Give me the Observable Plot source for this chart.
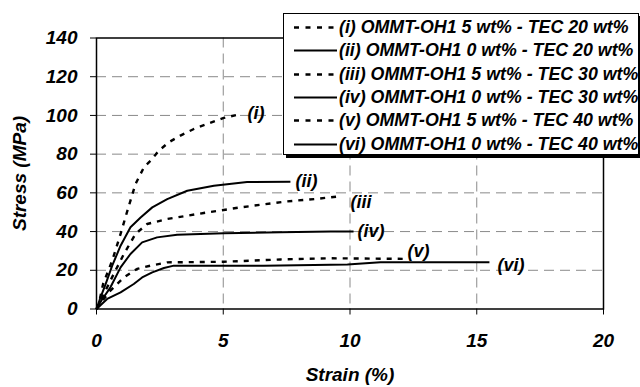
<!DOCTYPE html>
<html>
<head>
<meta charset="utf-8">
<script src="https://cdn.jsdelivr.net/npm/d3@7"></script>
<script src="https://cdn.jsdelivr.net/npm/@observablehq/plot@0.6"></script>
<style>
  html, body { margin: 0; padding: 0; background: #fff; }
  #wrap { position: relative; width: 640px; height: 387px; overflow: hidden;
          font-family: "Liberation Sans", Arial, sans-serif; font-weight: bold; font-style: italic; }
  #legend { position: absolute; left: 283px; top: 13px; width: 356px; height: 142px;
            background: #fff; border: 1px solid #000; box-shadow: 3px 3px 0 #000;
            box-sizing: border-box; padding-top: 2px; }
  .row { height: 23.3px; display: flex; align-items: center; font-size: 17.8px; white-space: nowrap; }
  .row svg { width: 55px; height: 23px; flex: none; }
</style>
</head>
<body>
<div id="wrap">
  <div id="chart"></div>
  <div id="legend"></div>
</div>
<script>
// ---- data ----
const seriesNames = [
  "(i) OMMT-OH1 5 wt% - TEC 20 wt%",
  "(ii) OMMT-OH1 0 wt% - TEC 20 wt%",
  "(iii) OMMT-OH1 5 wt% - TEC 30 wt%",
  "(iv) OMMT-OH1 0 wt% - TEC 30 wt%",
  "(v) OMMT-OH1 5 wt% - TEC 40 wt%",
  "(vi) OMMT-OH1 0 wt% - TEC 40 wt%"
];
const seriesDashed = [true, false, true, false, true, false];

const strain_i = [0, 0.09, 0.26, 0.62, 0.95, 1.14, 1.34, 1.54, 1.87, 2.13, 2.46, 2.85, 3.31, 3.84, 4.43, 5.02, 5.6];
const stress_i = [0, 2.6, 12.9, 25, 38.8, 47.3, 56, 64.6, 73.2, 76.6, 81.8, 86.1, 89.6, 93, 95.9, 98.7, 100.5];

const strain_ii = [0, 0.16, 0.36, 0.62, 0.95, 1.34, 1.74, 2.2, 2.79, 3.58, 4.63, 5.94, 7.65];
const stress_ii = [0, 6, 12.9, 22.4, 32.7, 42.2, 47.3, 52.5, 56.8, 61.1, 63.7, 65.6, 65.8];

const strain_iii = [0, 0.3, 0.68, 1.08, 1.54, 2.0, 2.79, 4.23, 5.68, 7.52, 8.6, 9.45];
const stress_iii = [0, 8, 18.1, 28.4, 38.8, 43.9, 46.5, 49.6, 52.5, 55.6, 56.8, 58];

const strain_iv = [0, 0.2, 0.55, 0.95, 1.34, 1.8, 2.39, 3.18, 5.02, 7.26, 9.23, 10.14];
const stress_iv = [0, 4.5, 11.2, 21.5, 28.4, 34.4, 37, 38.4, 39.1, 39.6, 40.1, 40.1];

const strain_v = [0, 0.25, 0.55, 1.08, 1.6, 2.13, 2.79, 5.02, 7.26, 9.23, 12.1];
const stress_v = [0, 4.5, 9.5, 16.3, 20.7, 22.4, 24.1, 24.4, 25.6, 26.2, 25.9];

const strain_vi = [0, 0.42, 0.95, 1.47, 1.8, 2.2, 2.66, 3.05, 6.6, 9.9, 11.2, 15.5];
const stress_vi = [0, 5.2, 8.6, 12.9, 16.3, 18.9, 21.2, 22.4, 22.4, 23.0, 24.1, 24.1];

const curveLabels = ["(i)", "(ii)", "(iii", "(iv)", "(v)", "(vi)"];
const curveLabelX = [5.96, 7.85, 10.02, 10.3, 12.27, 15.82];
const curveLabelY = [100.9, 65.8, 54.9, 40, 30.1, 22.4];

const xTicks = [0, 5, 10, 15, 20];
const yTicks = [0, 20, 40, 60, 80, 100, 120, 140];
const xGrid = [5, 10, 15];
const yGrid = [20, 40, 60, 80, 100, 120];

// ---- build ----
const strains = [strain_i, strain_ii, strain_iii, strain_iv, strain_v, strain_vi];
const stresses = [stress_i, stress_ii, stress_iii, stress_iv, stress_v, stress_vi];
const rows = strains.map((xs, k) => xs.map((x, j) => ({x, y: stresses[k][j], s: k})));
const labelRows = curveLabels.map((t, k) => ({t, x: curveLabelX[k], y: curveLabelY[k]}));

const font = {fontFamily: "'Liberation Sans', Arial, sans-serif", fontWeight: "bold", fontStyle: "italic"};
const gridStyle = {stroke: "#8a8a8a", strokeOpacity: 1, strokeWidth: 1, strokeDasharray: "10,6"};

const plot = Plot.plot({
  width: 640,
  height: 387,
  marginLeft: 96,
  marginRight: 37,
  marginTop: 37.5,
  marginBottom: 78.5,
  style: {background: "#fff", fontSize: "19px", ...font, color: "#000"},
  x: {domain: [0, 20]},
  y: {domain: [0, 140]},
  marks: [
    Plot.gridY(yGrid, gridStyle),
    Plot.gridX(xGrid, gridStyle),
    Plot.frame({stroke: "#000", strokeWidth: 1.5}),
    Plot.axisY(yTicks, {tickSize: 6, tickPadding: 13, fontSize: 19, label: "Stress (MPa)",
      labelAnchor: "center", labelArrow: "none", labelOffset: 84, stroke: "#000"}),
    Plot.axisX(xTicks, {tickSize: 6, tickPadding: 18, fontSize: 19, label: "Strain (%)",
      labelAnchor: "center", labelArrow: "none", labelOffset: 72, stroke: "#000"}),
    ...rows.map((r, k) => Plot.line(r, {x: "x", y: "y", stroke: "#000",
      strokeWidth: seriesDashed[k] ? 2.4 : 2,
      strokeDasharray: seriesDashed[k] ? "5,6" : null,
      strokeLinecap: "butt", curve: "linear"})),
    Plot.text(labelRows, {x: "x", y: "y", text: "t", textAnchor: "start", fontSize: 18, fill: "#000", ...font})
  ]
});
document.getElementById("chart").appendChild(plot);

// legend
const legend = document.getElementById("legend");
seriesNames.forEach((name, k) => {
  const row = document.createElement("div");
  row.className = "row";
  row.innerHTML = `<svg viewBox="0 0 55 23"><line x1="10" x2="53" y1="11.5" y2="11.5" stroke="#000" stroke-width="${seriesDashed[k] ? 2.6 : 2}" ${seriesDashed[k] ? 'stroke-dasharray="5,6.5"' : ""}/></svg><span></span>`;
  row.querySelector("span").textContent = name;
  legend.appendChild(row);
});
</script>
</body>
</html>
